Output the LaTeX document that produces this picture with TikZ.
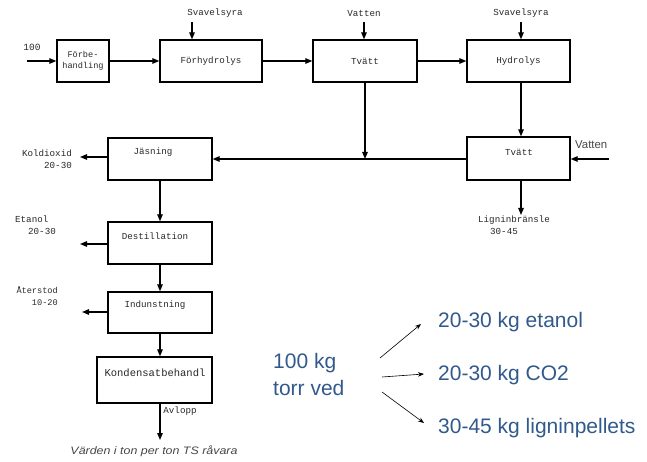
\documentclass[tikz,border=0pt]{standalone}
\usepackage{fontspec}
\setmainfont{Liberation Serif}
\setsansfont{Liberation Sans}
\setmonofont{Liberation Mono}
\usetikzlibrary{arrows.meta}
\definecolor{txtblue}{RGB}{49,89,140}
\definecolor{lblgray}{RGB}{40,40,40}
\definecolor{notegray}{RGB}{70,70,70}
\tikzset{
  box/.style={draw, line width=1.3pt, inner sep=0pt, minimum height=42pt},
  arr/.style={line width=1.2pt, -{Triangle[length=7pt,width=5.5pt]}},
  lbl/.style={font=\ttfamily\fontsize{9.2}{11.5}\selectfont, text=lblgray, inner sep=0pt},
  big/.style={font=\sffamily\fontsize{21}{25}\selectfont, text=txtblue, inner sep=0pt},
  thin/.style={line width=0.6pt, -{Stealth[length=6pt,width=4.5pt]}}
}
\begin{document}
\begin{tikzpicture}[x=1pt,y=-1pt]
\useasboundingbox (0,0) rectangle (647,462);
% boxes
\node[box, minimum width=52pt] (fb) at (83,61) {};
\node[lbl, align=center, font=\ttfamily\fontsize{8.6}{10.5}\selectfont] (fbl) at (83,61) {Förbe-\\handling};
\node[box, minimum width=102pt] (fh) at (211,61) {};
\node[lbl] (fhl) at (211,61) {Förhydrolys};
\node[box, minimum width=104pt] (tv1) at (365,61) {};
\node[lbl] (tv1l) at (365,61) {Tvätt};
\node[box, minimum width=103pt] (hy) at (518.5,61) {};
\node[lbl] (hyl) at (518.5,61) {Hydrolys};
\node[box, minimum width=103pt, minimum height=43pt] (tv2) at (518.5,158.5) {};
\node[lbl] (tv2l) at (519,152) {Tvätt};
\node[box, minimum width=104pt] (jas) at (160,159) {};
\node[lbl] (jasl) at (153,152) {Jäsning};
\node[box, minimum width=104pt] (des) at (160,243) {};
\node[lbl] (desl) at (155,236) {Destillation};
\node[box, minimum width=104pt, minimum height=41pt] (ind) at (160,312.5) {};
\node[lbl] (indl) at (155,305) {Indunstning};
\node[box, minimum width=115pt, minimum height=46pt] (kon) at (154.5,380) {};
\node[lbl, font=\ttfamily\fontsize{10.5}{12}\selectfont] (konl) at (155,373) {Kondensatbehandl};
% top inputs
\node[lbl, font=\ttfamily\fontsize{9.5}{11}\selectfont] (in100) at (32,47) {100};
\coordinate (c100) at (27,61);
\draw[arr] (c100) -- (fb.west);
\draw[arr] (fb.east) -- (fh.west);
\draw[arr] (fh.east) -- (tv1.west);
\draw[arr] (tv1.east) -- (hy.west);
\node[lbl] (sv1) at (215,13) {Svavelsyra};
\coordinate (csv1) at (192,22);
\draw[arr] (csv1) -- (csv1 |- fh.north);
\node[lbl] (vat1) at (364,13) {Vatten};
\coordinate (cvat1) at (364,22);
\draw[arr] (cvat1) -- (cvat1 |- tv1.north);
\node[lbl] (sv2) at (521,13) {Svavelsyra};
\coordinate (csv2) at (521,22);
\draw[arr] (csv2) -- (csv2 |- hy.north);
% right column
\coordinate (chy) at (521,82);
\draw[arr] (chy) -- (chy |- tv2.north);
\node[font=\sffamily\fontsize{11.4}{13}\selectfont, text=notegray, inner sep=0pt, anchor=west] (vat2) at (575,145) {Vatten};
\coordinate (cvat2) at (609,159);
\draw[arr] (cvat2) -- (cvat2 -| tv2.east);
\draw[arr] (tv2.west |- 0,159) -- (jas.east |- 0,159);
\draw[arr] (tv1.south) -- (tv1.south |- 0,159);
\coordinate (clig) at (521,215);
\draw[arr] (clig |- tv2.south) -- (clig);
\node[lbl, align=left, anchor=north west] (ligl) at (478,216) {Ligninbränsle\\\hspace*{12pt}30-45};
% left outputs
\coordinate (ckol) at (80,157);
\draw[arr] (jas.west |- ckol) -- (ckol);
\node[lbl, align=right, anchor=north east] (koll) at (72,150) {Koldioxid\\20-30};
\draw[arr] (jas.south) -- (des.north);
\coordinate (ceta) at (80,244);
\draw[arr] (des.west |- ceta) -- (ceta);
\node[lbl, align=left, anchor=north west] (etal) at (15,216) {Etanol\\\hspace*{13pt}20-30};
\draw[arr] (des.south) -- (ind.north);
\coordinate (cate) at (82,312);
\draw[arr] (ind.west |- cate) -- (cate);
\node[lbl, align=right, anchor=north east, font=\ttfamily\fontsize{8.6}{12}\selectfont] (atel) at (58,286) {Återstod\\10-20};
\draw[arr] (ind.south) -- (ind.south |- kon.north);
\coordinate (cavl) at (160,440);
\draw[arr] (ind.south |- kon.south) -- (cavl);
\node[lbl] (avll) at (180,411) {Avlopp};
\node[font=\sffamily\itshape\fontsize{10.8}{12}\selectfont, text=notegray, inner sep=0pt, xscale=1.15] (note) at (154,451) {Värden i ton per ton TS råvara};
% right summary
\node[big, anchor=base west] (s1) at (273,368) {100 kg};
\node[big, anchor=base west] (s2) at (273,395) {torr ved};
\node[big, anchor=base west] (o1) at (438,327) {20-30 kg etanol};
\node[big, anchor=base west] (o2) at (438,380) {20-30 kg CO2};
\node[big, anchor=base west] (o3) at (438,433) {30-45 kg ligninpellets};
\coordinate (a1s) at (380,358); \coordinate (a1e) at (421,324);
\coordinate (a2s) at (382,377); \coordinate (a2e) at (424,374);
\coordinate (a3s) at (382,392); \coordinate (a3e) at (424,423);
\draw[thin] (a1s) -- (a1e);
\draw[thin] (a2s) -- (a2e);
\draw[thin] (a3s) -- (a3e);
\end{tikzpicture}
\end{document}
